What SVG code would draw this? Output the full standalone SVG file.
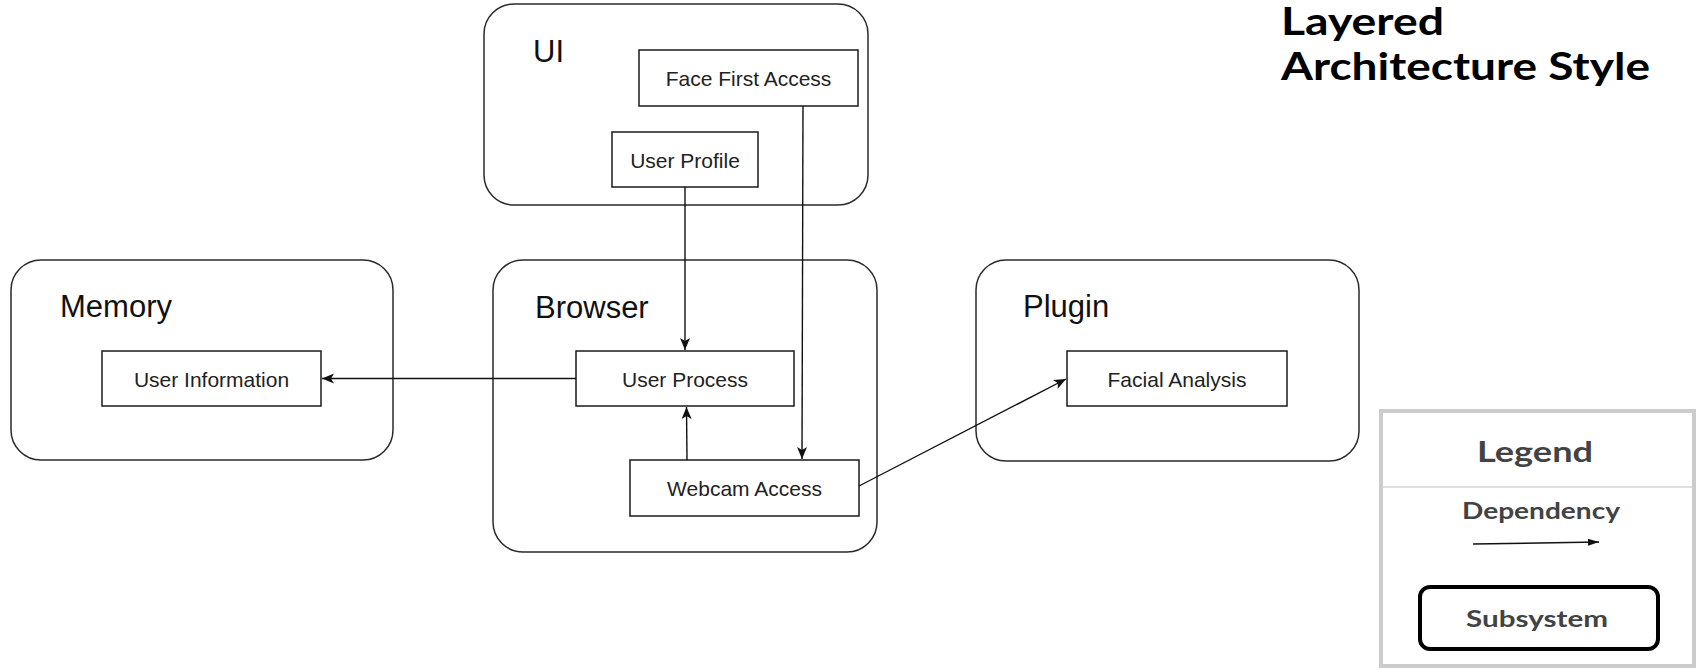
<svg xmlns="http://www.w3.org/2000/svg" width="1698" height="671" viewBox="0 0 1698 671">
  <style>
    .layer { fill: #ffffff; stroke: #2a2a2a; stroke-width: 1.5; }
    .comp { fill: #ffffff; stroke: #1a1a1a; stroke-width: 1.5; }
    .layer-label { font-family: "Liberation Sans", Arial, sans-serif; font-size: 31px; fill: #111111; }
    .comp-label { font-family: "Liberation Sans", Arial, sans-serif; font-size: 21px; fill: #222222; text-anchor: middle; }
    .edge { fill: none; stroke: #111111; stroke-width: 1.4; marker-end: url(#arrow); }
    .title { font-family: Lato, "Noto Sans", sans-serif; font-weight: bold; font-size: 38px; fill: #000000; }
    .legend-text { font-family: Lato, "Noto Sans", sans-serif; font-weight: bold; fill: #434343; text-anchor: middle; }
  </style>
  <defs>
    <marker id="arrow" markerUnits="userSpaceOnUse" markerWidth="13" markerHeight="11" refX="12" refY="5" orient="auto">
      <path d="M0,0 L12,5 L0,10 L3,5 z" fill="#111111"/>
    </marker>
    <marker id="arrow-small" markerUnits="userSpaceOnUse" markerWidth="12" markerHeight="8" refX="11" refY="3.5" orient="auto">
      <path d="M0,0 L11,3.5 L0,7 z" fill="#111111"/>
    </marker>
  </defs>

  <rect width="1698" height="671" fill="#ffffff"/>

  <!-- Title -->
  <g id="title">
    <text class="title" x="1281" y="35" textLength="163" lengthAdjust="spacingAndGlyphs">Layered</text>
    <text class="title" x="1281" y="80" textLength="369" lengthAdjust="spacingAndGlyphs">Architecture Style</text>
  </g>

  <!-- Layers -->
  <g id="layer-ui">
    <rect class="layer" x="484" y="4" width="384" height="201" rx="30" ry="30"/>
    <text class="layer-label" x="533" y="62">UI</text>
  </g>
  <g id="layer-memory">
    <rect class="layer" x="11" y="260" width="382" height="200" rx="30" ry="30"/>
    <text class="layer-label" x="60" y="317">Memory</text>
  </g>
  <g id="layer-browser">
    <rect class="layer" x="493" y="260" width="384" height="292" rx="30" ry="30"/>
    <text class="layer-label" x="535" y="318">Browser</text>
  </g>
  <g id="layer-plugin">
    <rect class="layer" x="976" y="260" width="383" height="201" rx="30" ry="30"/>
    <text class="layer-label" x="1023" y="317">Plugin</text>
  </g>

  <!-- Components -->
  <g id="face-first-access">
    <rect class="comp" x="639" y="50" width="219" height="56"/>
    <text class="comp-label" x="748.5" y="86">Face First Access</text>
  </g>
  <g id="user-profile">
    <rect class="comp" x="612" y="132" width="146" height="55"/>
    <text class="comp-label" x="685" y="168">User Profile</text>
  </g>
  <g id="user-information">
    <rect class="comp" x="102" y="351" width="219" height="55"/>
    <text class="comp-label" x="211.5" y="387">User Information</text>
  </g>
  <g id="user-process">
    <rect class="comp" x="576" y="351" width="218" height="55"/>
    <text class="comp-label" x="685" y="387">User Process</text>
  </g>
  <g id="webcam-access">
    <rect class="comp" x="630" y="460" width="229" height="56"/>
    <text class="comp-label" x="744.5" y="496">Webcam Access</text>
  </g>
  <g id="facial-analysis">
    <rect class="comp" x="1067" y="351" width="220" height="55"/>
    <text class="comp-label" x="1177" y="387">Facial Analysis</text>
  </g>

  <!-- Dependencies -->
  <g id="connectors">
    <line class="edge" x1="685" y1="187" x2="685" y2="350"/>
    <line class="edge" x1="803" y1="106" x2="802" y2="459"/>
    <line class="edge" x1="576" y1="378.5" x2="322" y2="378.5"/>
    <line class="edge" x1="687" y1="460" x2="686.5" y2="407"/>
    <line class="edge" x1="859" y1="486" x2="1066" y2="379"/>
  </g>

  <!-- Legend -->
  <g id="legend">
    <rect x="1381" y="411" width="313" height="255" fill="#ffffff" stroke="#cccccc" stroke-width="4"/>
    <line x1="1383" y1="487" x2="1692" y2="487" stroke="#d4d4d4" stroke-width="1.5"/>
    <text class="legend-text" x="1535" y="462" font-size="28" textLength="116" lengthAdjust="spacingAndGlyphs">Legend</text>
    <text class="legend-text" x="1541" y="519" font-size="22" textLength="158" lengthAdjust="spacingAndGlyphs">Dependency</text>
    <line x1="1473" y1="544" x2="1599" y2="542" stroke="#111111" stroke-width="1.5" marker-end="url(#arrow-small)"/>
    <rect x="1420" y="587" width="238" height="62" rx="10" ry="10" fill="#ffffff" stroke="#000000" stroke-width="4"/>
    <text class="legend-text" x="1537" y="627" font-size="22" textLength="142" lengthAdjust="spacingAndGlyphs">Subsystem</text>
  </g>
</svg>
